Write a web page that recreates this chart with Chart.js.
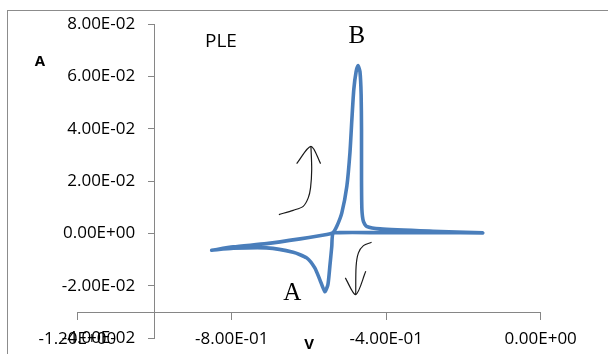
<!DOCTYPE html>
<html>
<head>
<meta charset="utf-8">
<script src="https://cdn.jsdelivr.net/npm/chart.js@4/dist/chart.umd.min.js"></script>
<style>
  html, body { margin: 0; padding: 0; background: #fff; }
  #wrap { width: 608px; height: 354px; }
</style>
</head>
<body>
<div id="wrap"><canvas id="cvChart" width="608" height="354"></canvas></div>
<script>
// forward scan (V, A)
var fwdV = [-0.852, -0.796, -0.710, -0.623, -0.554, -0.538, -0.528, -0.515, -0.502, -0.494,
            -0.489, -0.484, -0.478, -0.473, -0.468, -0.465, -0.464, -0.464, -0.463, -0.459,
            -0.451, -0.416, -0.279, -0.150];
var fwdI = [-0.00637, -0.00508, -0.00382, -0.00202, -0.00038, 0.00038, 0.00279, 0.0079, 0.01805, 0.0308,
            0.0435, 0.055, 0.0618, 0.0641, 0.0618, 0.0531, 0.0397, 0.0206, 0.00916, 0.00458,
            0.00279, 0.00179, 0.00088, 0.00027];
// reverse scan (V, A)
var revV = [-0.261, -0.416, -0.520, -0.538, -0.541, -0.546, -0.551, -0.559, -0.572, -0.585,
            -0.606, -0.641, -0.710, -0.796, -0.852];
var revI = [0.00038, 0.00038, 0.00038, 0, -0.00485, -0.01248, -0.01947, -0.02214, -0.01756, -0.01309,
            -0.00928, -0.00714, -0.00546, -0.00561, -0.00637];

// hand drawn arrows
var upArrowV = [-0.678, -0.641, -0.615, -0.602, -0.596, -0.593, -0.595];
var upArrowI = [0.00725, 0.00889, 0.0104, 0.01363, 0.01744, 0.02443, 0.03332];
var upHeadV = [-0.632, -0.595, -0.570];
var upHeadI = [0.02672, 0.03332, 0.02672];
var downArrowV = [-0.438, -0.459, -0.472, -0.478, -0.479];
var downArrowI = [-0.00332, -0.00458, -0.00737, -0.01248, -0.02328];
var downHeadV = [-0.506, -0.479, -0.453];
var downHeadI = [-0.01691, -0.02328, -0.0144];

var xTicks = [-1.2, -0.8, -0.4, 0];
var yTicks = [-0.04, -0.02, 0, 0.02, 0.04, 0.06, 0.08];

var lineColor = 'rgb(74,126,187)';
var axisColor = '#868686';
var tickFont = { family: 'Open Sans', size: 17 };

function toPoints(xs, ys) {
    var pts = [];
    for (var i = 0; i < xs.length; i++) {
        pts.push({x: xs[i], y: ys[i]});
    }
    return pts;
}

function sci(v) {
    if (Math.abs(v) < 1e-12) return '0.00E+00';
    var parts = v.toExponential(2).split('e');
    var exp = Number(parts[1]);
    var e = String(Math.abs(exp));
    if (e.length < 2) e = '0' + e;
    return parts[0] + 'E' + (exp < 0 ? '-' : '+') + e;
}

function setTicks(list) {
    return function(scale) {
        scale.ticks = list.map(function(v) { return {value: v}; });
    };
}

function penLine(xs, ys) {
    return {
        data: toPoints(xs, ys),
        showLine: true,
        borderColor: '#1a1a1a',
        borderWidth: 1.2,
        pointRadius: 0,
        tension: 0.3
    };
}

var labelsPlugin = {
    id: 'labels',
    beforeDraw: function(chart) {
        var ctx = chart.ctx;
        ctx.save();
        ctx.strokeStyle = '#8c8c8c';
        ctx.lineWidth = 1;
        ctx.strokeRect(7.5, 10.5, 700, 400);
        ctx.restore();
    },
    afterDraw: function(chart) {
        var ctx = chart.ctx;
        var x = chart.scales.x, y = chart.scales.y;
        ctx.save();
        ctx.fillStyle = '#000';
        ctx.textAlign = 'center';
        ctx.textBaseline = 'middle';
        ctx.font = '19px "Open Sans"';
        ctx.fillText('PLE', x.getPixelForValue(-0.828), y.getPixelForValue(0.0733));
        ctx.font = '25px "Liberation Serif"';
        ctx.fillText('B', x.getPixelForValue(-0.476), y.getPixelForValue(0.0754));
        ctx.fillText('A', x.getPixelForValue(-0.643), y.getPixelForValue(-0.0229));
        ctx.font = 'bold 15px "Open Sans"';
        ctx.fillText('A', 40, 62);
        ctx.fillText('V', x.getPixelForValue(-0.6), 345);
        ctx.restore();
    }
};

var pad = { left: 77, right: 67, top: 24, bottom: 16 };

var ctx = document.getElementById('cvChart').getContext('2d');
var cvChart = new Chart(ctx, {
    type: 'scatter',
    data: {
        datasets: [
            {
                data: toPoints(fwdV.concat(revV), fwdI.concat(revI)),
                showLine: true,
                borderColor: lineColor,
                borderWidth: 3.6,
                borderJoinStyle: 'round',
                borderCapStyle: 'round',
                pointRadius: 0,
                tension: 0.2
            },
            penLine(upArrowV, upArrowI),
            penLine(upHeadV, upHeadI),
            penLine(downArrowV, downArrowI),
            penLine(downHeadV, downHeadI)
        ]
    },
    options: {
        responsive: false,
        animation: false,
        layout: { padding: pad },
        plugins: { legend: { display: false }, tooltip: { enabled: false } },
        scales: {
            x: {
                type: 'linear',
                min: -1.2,
                max: 0,
                position: { y: -0.03 },
                afterBuildTicks: setTicks(xTicks),
                grid: { drawOnChartArea: false, color: axisColor, tickLength: 7 },
                border: { color: axisColor, width: 1 },
                ticks: {
                    color: '#000',
                    padding: 10,
                    maxRotation: 0,
                    autoSkip: false,
                    font: tickFont,
                    callback: function(v) { return sci(v); }
                }
            },
            // axis line and tick marks, crossing at -1.0 V
            y: {
                type: 'linear',
                min: -0.04,
                max: 0.08,
                position: { x: -1.0 },
                afterBuildTicks: setTicks(yTicks),
                grid: { drawOnChartArea: false, color: axisColor, tickLength: 6 },
                border: { color: axisColor, width: 1 },
                ticks: { autoSkip: false, font: tickFont, callback: function() { return ''; } }
            },
            // tick labels of the y axis, set a little left of the line
            yLab: {
                type: 'linear',
                axis: 'y',
                min: -0.04,
                max: 0.08,
                position: { x: -1.05 },
                afterBuildTicks: setTicks(yTicks),
                grid: { display: false },
                border: { display: false },
                ticks: {
                    color: '#000',
                    autoSkip: false,
                    font: tickFont,
                    callback: function(v) { return sci(v); }
                }
            }
        }
    },
    plugins: [labelsPlugin]
});

// pin the plot area to where the original chart has it
var target = { left: 77.3, right: 540.7, top: 24, bottom: 338.4 };
for (var k = 0; k < 2; k++) {
    var a = cvChart.chartArea;
    pad.left += target.left - a.left;
    pad.right += a.right - target.right;
    pad.top += target.top - a.top;
    pad.bottom += a.bottom - target.bottom;
    cvChart.options.layout.padding = pad;
    cvChart.update();
}
</script>
</body>
</html>
